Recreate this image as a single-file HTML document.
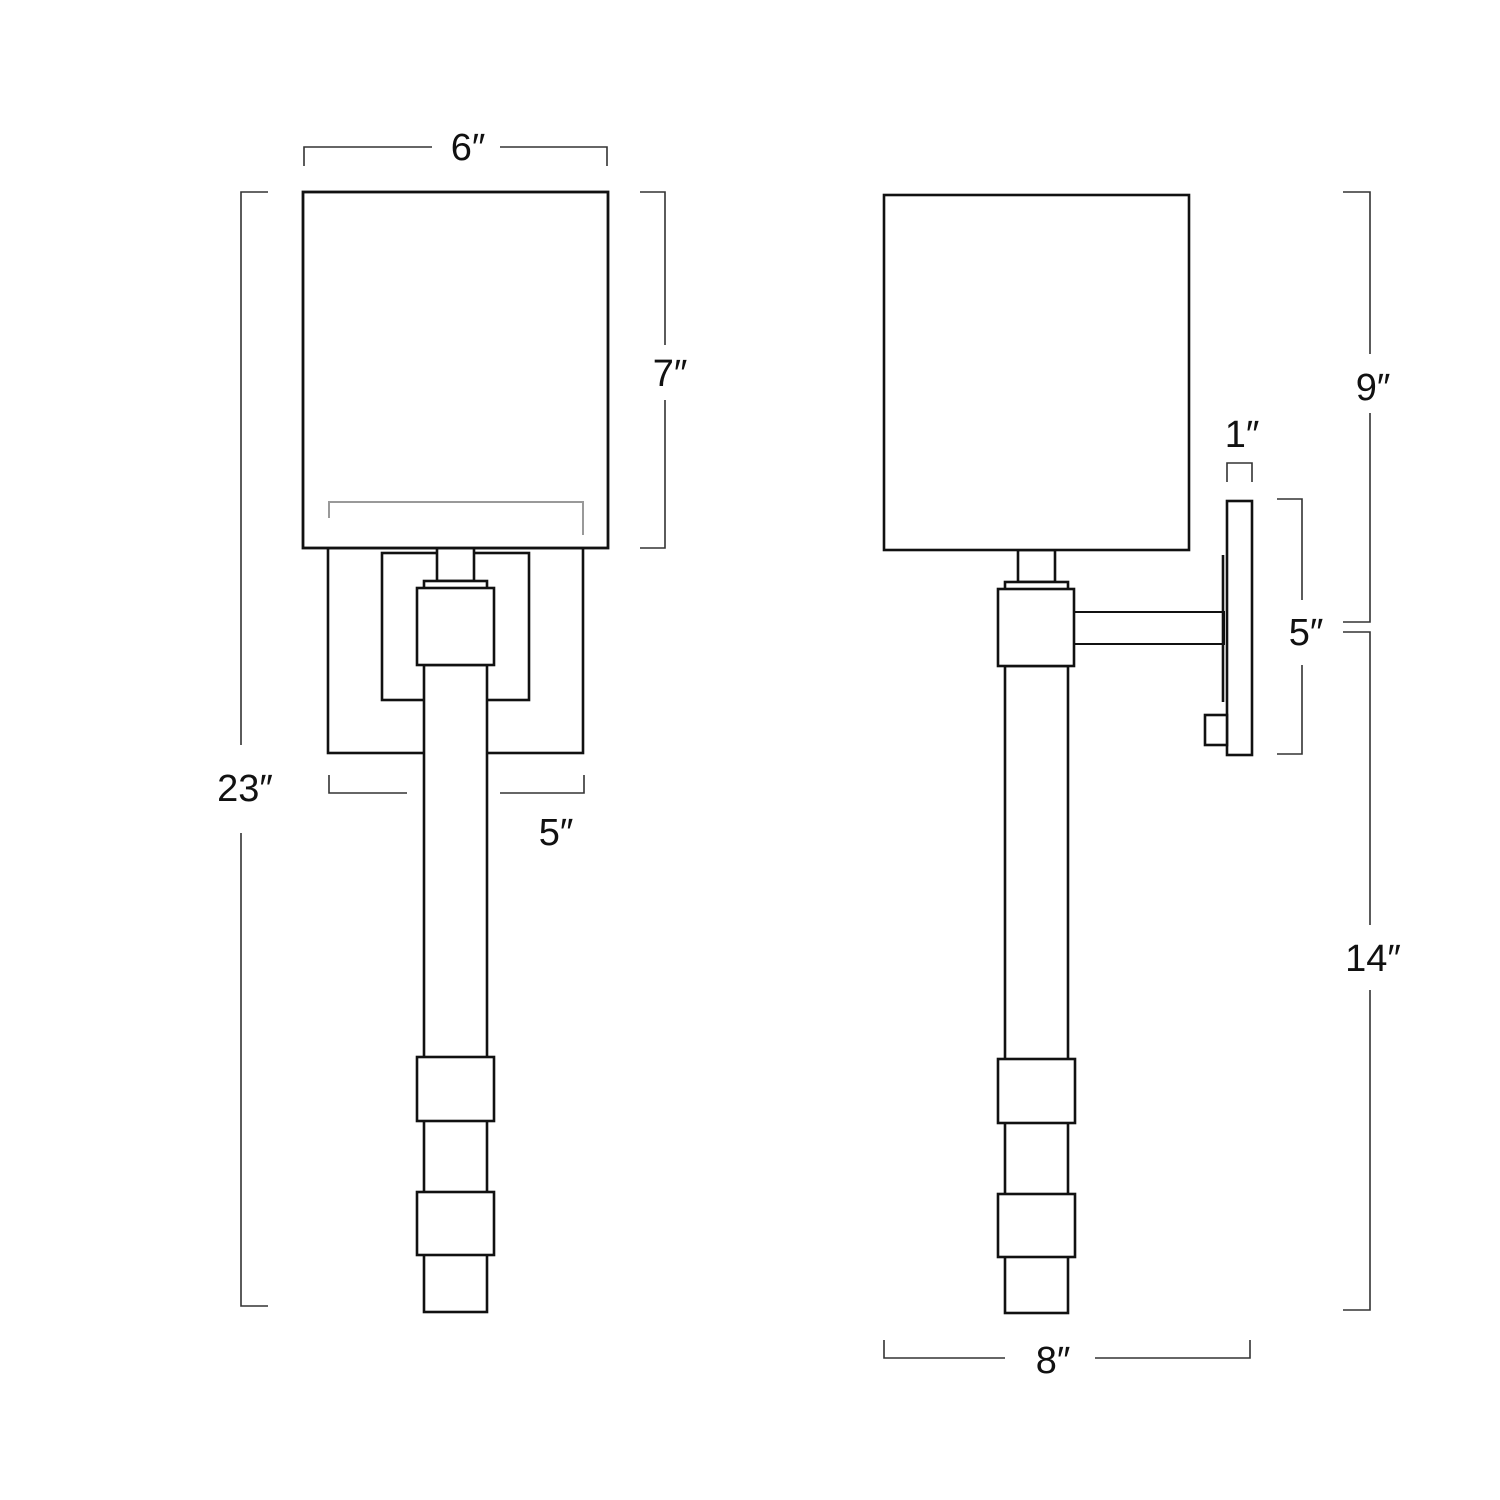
<!DOCTYPE html>
<html><head><meta charset="utf-8"><style>
html,body{margin:0;padding:0;background:#fff;}
svg{display:block;}
text{font-family:"Liberation Sans",sans-serif;font-size:38px;fill:#111;text-anchor:middle;}
</style></head><body>
<svg width="1500" height="1500" viewBox="0 0 1500 1500" xmlns="http://www.w3.org/2000/svg">
<g fill="#fff" stroke="#111" stroke-width="2.6">
  <!-- LEFT FIXTURE -->
  <rect x="328" y="548" width="255" height="205"/>
  <rect x="382" y="553" width="147" height="147"/>
  <rect x="424" y="665" width="63" height="647"/>
  <rect x="437" y="548" width="37" height="33"/>
  <rect x="424" y="581" width="63" height="8"/>
  <rect x="417" y="588" width="77" height="77"/>
  <rect x="417" y="1057" width="77" height="64"/>
  <rect x="417" y="1192" width="77" height="63"/>
  <rect x="303" y="192" width="305" height="356" stroke-width="2.8"/>
  <!-- RIGHT FIXTURE -->
  <rect x="1074" y="612" width="150" height="32" stroke-width="2"/>
  <rect x="1005" y="666" width="63" height="647"/>
  <rect x="1018" y="550" width="37" height="32"/>
  <rect x="1005" y="582" width="63" height="8"/>
  <rect x="998" y="589" width="76" height="77"/>
  <rect x="998" y="1059" width="77" height="64"/>
  <rect x="998" y="1194" width="77" height="63"/>
  <rect x="884" y="195" width="305" height="355" stroke-width="2.6"/>
  <rect x="1227" y="501" width="25" height="254"/>
  <rect x="1205" y="715" width="22" height="30"/>
  <line x1="1223" y1="555" x2="1223" y2="702"/>
</g>
<polyline points="329,518 329,502 583,502 583,535" fill="none" stroke="#999" stroke-width="2"/>
<g fill="none" stroke="#333" stroke-width="1.6">
  <!-- 6" -->
  <polyline points="304,166 304,147 432,147"/>
  <polyline points="500,147 607,147 607,166"/>
  <!-- 23" -->
  <polyline points="268,192 241,192 241,745"/>
  <polyline points="241,833 241,1306 268,1306"/>
  <!-- 7" -->
  <polyline points="640,192 665,192 665,345"/>
  <polyline points="665,400 665,548 640,548"/>
  <!-- 5" left -->
  <polyline points="329,775 329,793 407,793"/>
  <polyline points="500,793 584,793 584,775"/>
  <!-- 1" -->
  <polyline points="1227,482 1227,463 1252,463 1252,482"/>
  <!-- 5" right -->
  <polyline points="1277,499 1302,499 1302,600"/>
  <polyline points="1302,665 1302,754 1277,754"/>
  <!-- 9" -->
  <polyline points="1343,192 1370,192 1370,354"/>
  <polyline points="1370,413 1370,622 1343,622"/>
  <!-- 14" -->
  <polyline points="1343,632 1370,632 1370,925"/>
  <polyline points="1370,990 1370,1310 1343,1310"/>
  <!-- 8" -->
  <polyline points="884,1340 884,1358 1005,1358"/>
  <polyline points="1095,1358 1250,1358 1250,1340"/>
</g>
<text x="468" y="160">6″</text>
<text x="245" y="801">23″</text>
<text x="670" y="386">7″</text>
<text x="556" y="845">5″</text>
<text x="1242" y="447">1″</text>
<text x="1306" y="645">5″</text>
<text x="1373" y="400">9″</text>
<text x="1373" y="971">14″</text>
<text x="1053" y="1373">8″</text>
</svg>
</body></html>
